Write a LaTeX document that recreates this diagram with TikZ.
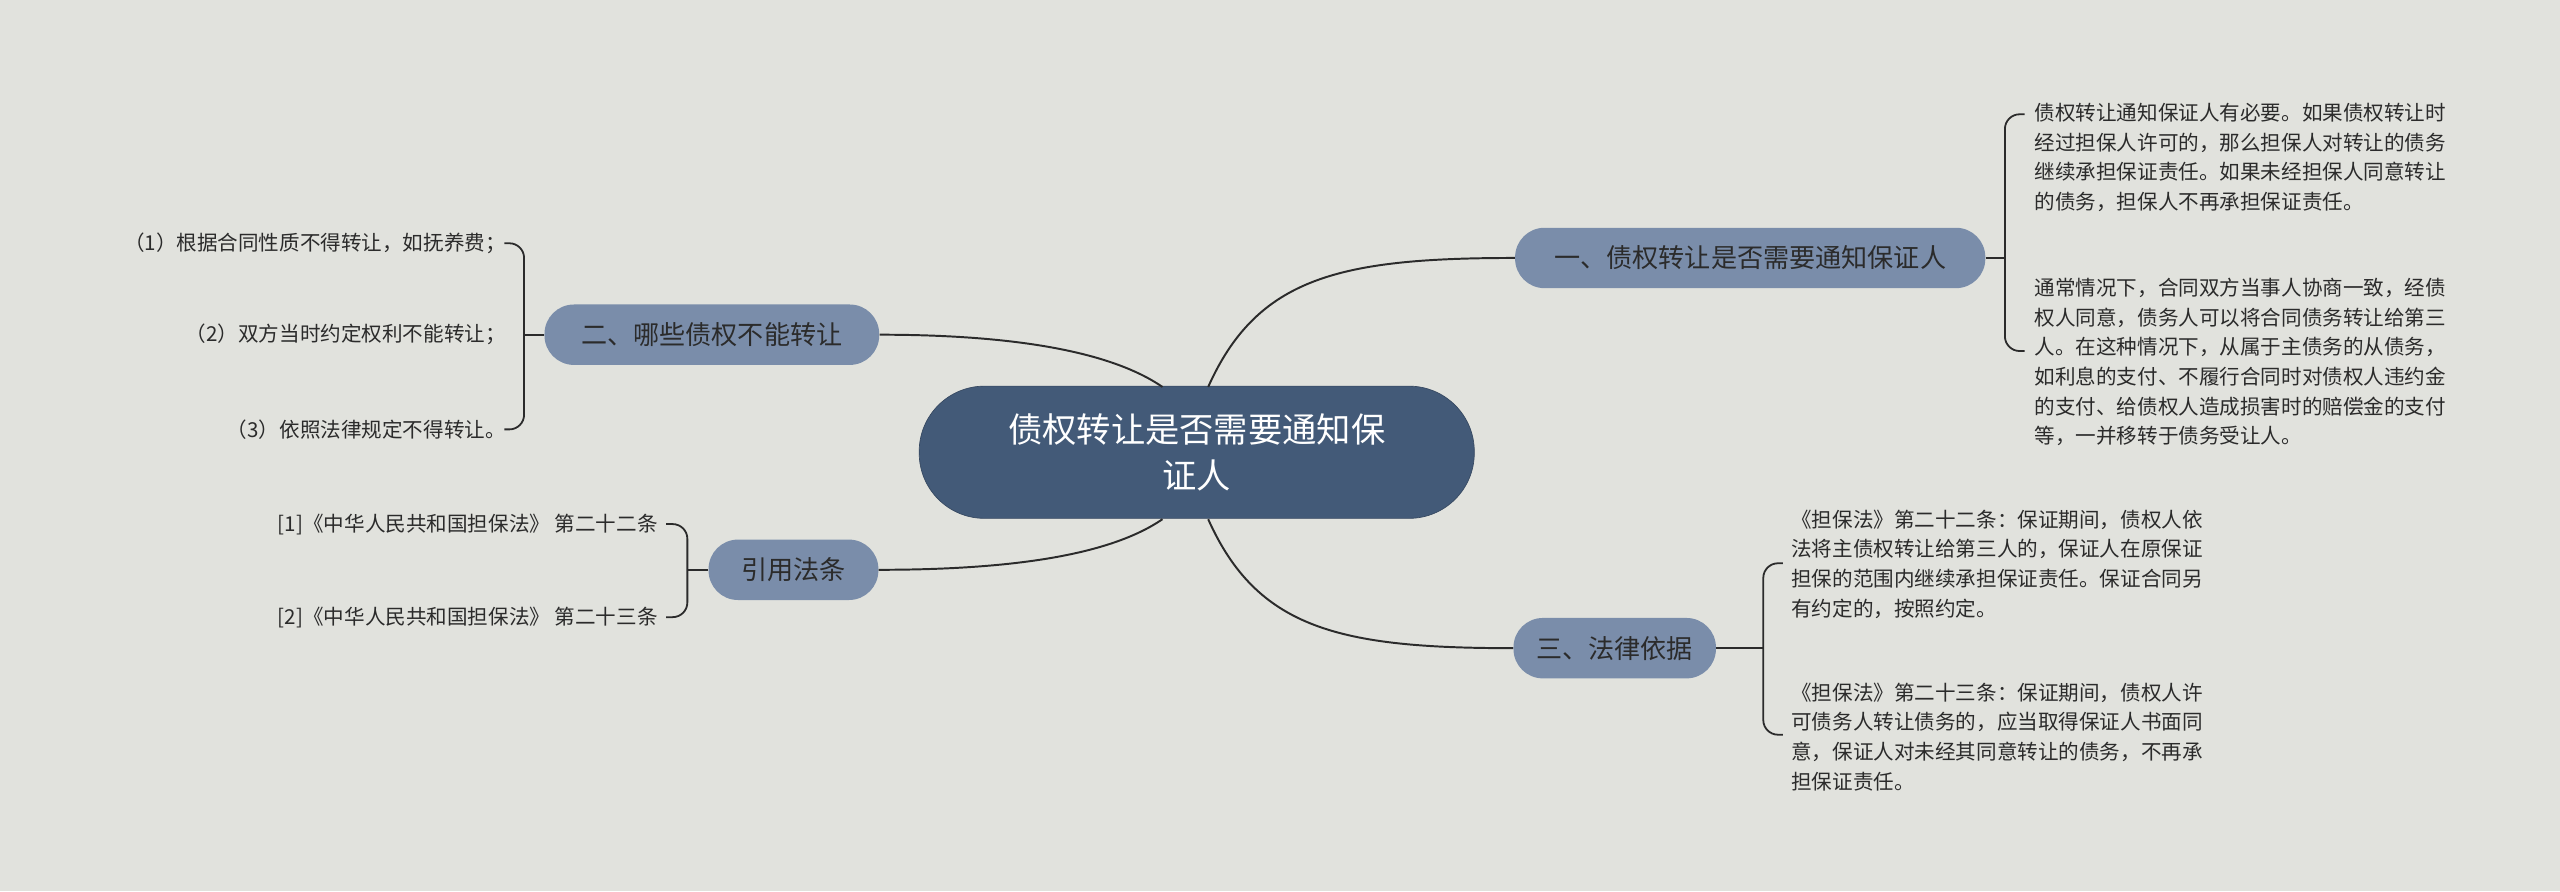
\documentclass[tikz,border=0pt]{standalone}
\usepackage{fontspec}
\setmainfont{Noto Sans CJK SC}
\definecolor{bg}{HTML}{E1E2DD}
\definecolor{cen}{HTML}{435A78}
\definecolor{br}{HTML}{7A8DAA}
\definecolor{ln}{HTML}{2B2B2B}
\begin{document}
\begin{tikzpicture}[x=1pt,y=-1pt,
  cbox/.style={fill=cen,draw=cen!80!black,rounded corners=40pt,minimum width=340pt,minimum height=81pt,text=white,font=\fontsize{21}{28}\selectfont,align=center},
  bbox/.style={fill=br,rounded corners=18pt,minimum height=37pt,text=ln,font=\fontsize{16}{20}\selectfont,inner xsep=14pt},
  leaf/.style={font=\fontsize{12.6}{18.2}\selectfont,text=ln,inner sep=0pt},
  conn/.style={draw=ln,line width=1.2pt},
  brace/.style={draw=ln,line width=1.1pt,rounded corners=9pt}]
\fill[bg] (0,0) rectangle (1568,546);
\useasboundingbox (0,0) rectangle (1568,546);
\node[cbox] (c) at (733,277) {债权转让是否需要通知保\\证人};
\node[bbox,minimum width=288pt] (b1) at (1072,158) {一、债权转让是否需要通知保证人};
\node[bbox,minimum width=205pt] (b2) at (436,205) {二、哪些债权不能转让};
\node[bbox,minimum width=104pt] (b3) at (486,349) {引用法条};
\node[bbox,minimum width=122pt] (b4) at (989,397) {三、法律依据};
\coordinate (c1) at (740,237); \coordinate (c2) at (712,237);
\coordinate (c3) at (712,318); \coordinate (c4) at (740,318);
\draw[conn] (c1) .. controls (770,170) and (820,158) .. (b1.west);
\draw[conn] (c2) .. controls (680,215) and (620,205) .. (b2.east);
\draw[conn] (c3) .. controls (680,340) and (620,349) .. (b3.east);
\draw[conn] (c4) .. controls (770,385) and (820,397) .. (b4.west);
% B1 leaves
\node[leaf,align=left,anchor=north west] (l11) at (1246,63) {债权转让通知保证人有必要。如果债权转让时\\经过担保人许可的，那么担保人对转让的债务\\继续承担保证责任。如果未经担保人同意转让\\的债务，担保人不再承担保证责任。};
\node[leaf,align=left,anchor=north west] (l12) at (1246,170) {通常情况下，合同双方当事人协商一致，经债\\权人同意，债务人可以将合同债务转让给第三\\人。在这种情况下，从属于主债务的从债务，\\如利息的支付、不履行合同时对债权人违约金\\的支付、给债权人造成损害时的赔偿金的支付\\等，一并移转于债务受让人。};
\coordinate (k1) at (1228,158);
\draw[brace] (1240,70) -| (k1) |- (1240,215);
\draw[conn] (b1.east) -- (k1);
% B2 leaves
\node[leaf,anchor=east] (l21) at (310,149) {（1）根据合同性质不得转让，如抚养费；};
\node[leaf,anchor=east] (l22) at (310,205) {（2）双方当时约定权利不能转让；};
\node[leaf,anchor=east] (l23) at (310,263) {（3）依照法律规定不得转让。};
\coordinate (k2) at (321,205);
\draw[brace] (309,149) -| (k2) |- (309,263);
\draw[conn] (b2.west) -- (k2);
% B3 leaves
\node[leaf,anchor=east] (l31) at (403,321) {[1]《中华人民共和国担保法》 第二十二条};
\node[leaf,anchor=east] (l32) at (403,378) {[2]《中华人民共和国担保法》 第二十三条};
\coordinate (k3) at (421,349);
\draw[brace] (408,321) -| (k3) |- (408,378);
\draw[conn] (b3.west) -- (k3);
% B4 leaves
\node[leaf,align=left,anchor=north west] (l41) at (1097,312) {《担保法》第二十二条：保证期间，债权人依\\法将主债权转让给第三人的，保证人在原保证\\担保的范围内继续承担保证责任。保证合同另\\有约定的，按照约定。};
\node[leaf,align=left,anchor=north west] (l42) at (1097,418) {《担保法》第二十三条：保证期间，债权人许\\可债务人转让债务的，应当取得保证人书面同\\意，保证人对未经其同意转让的债务，不再承\\担保证责任。};
\coordinate (k4) at (1080,397);
\draw[brace] (1092,345) -| (k4) |- (1092,450);
\draw[conn] (b4.east) -- (k4);
\end{tikzpicture}
\end{document}
